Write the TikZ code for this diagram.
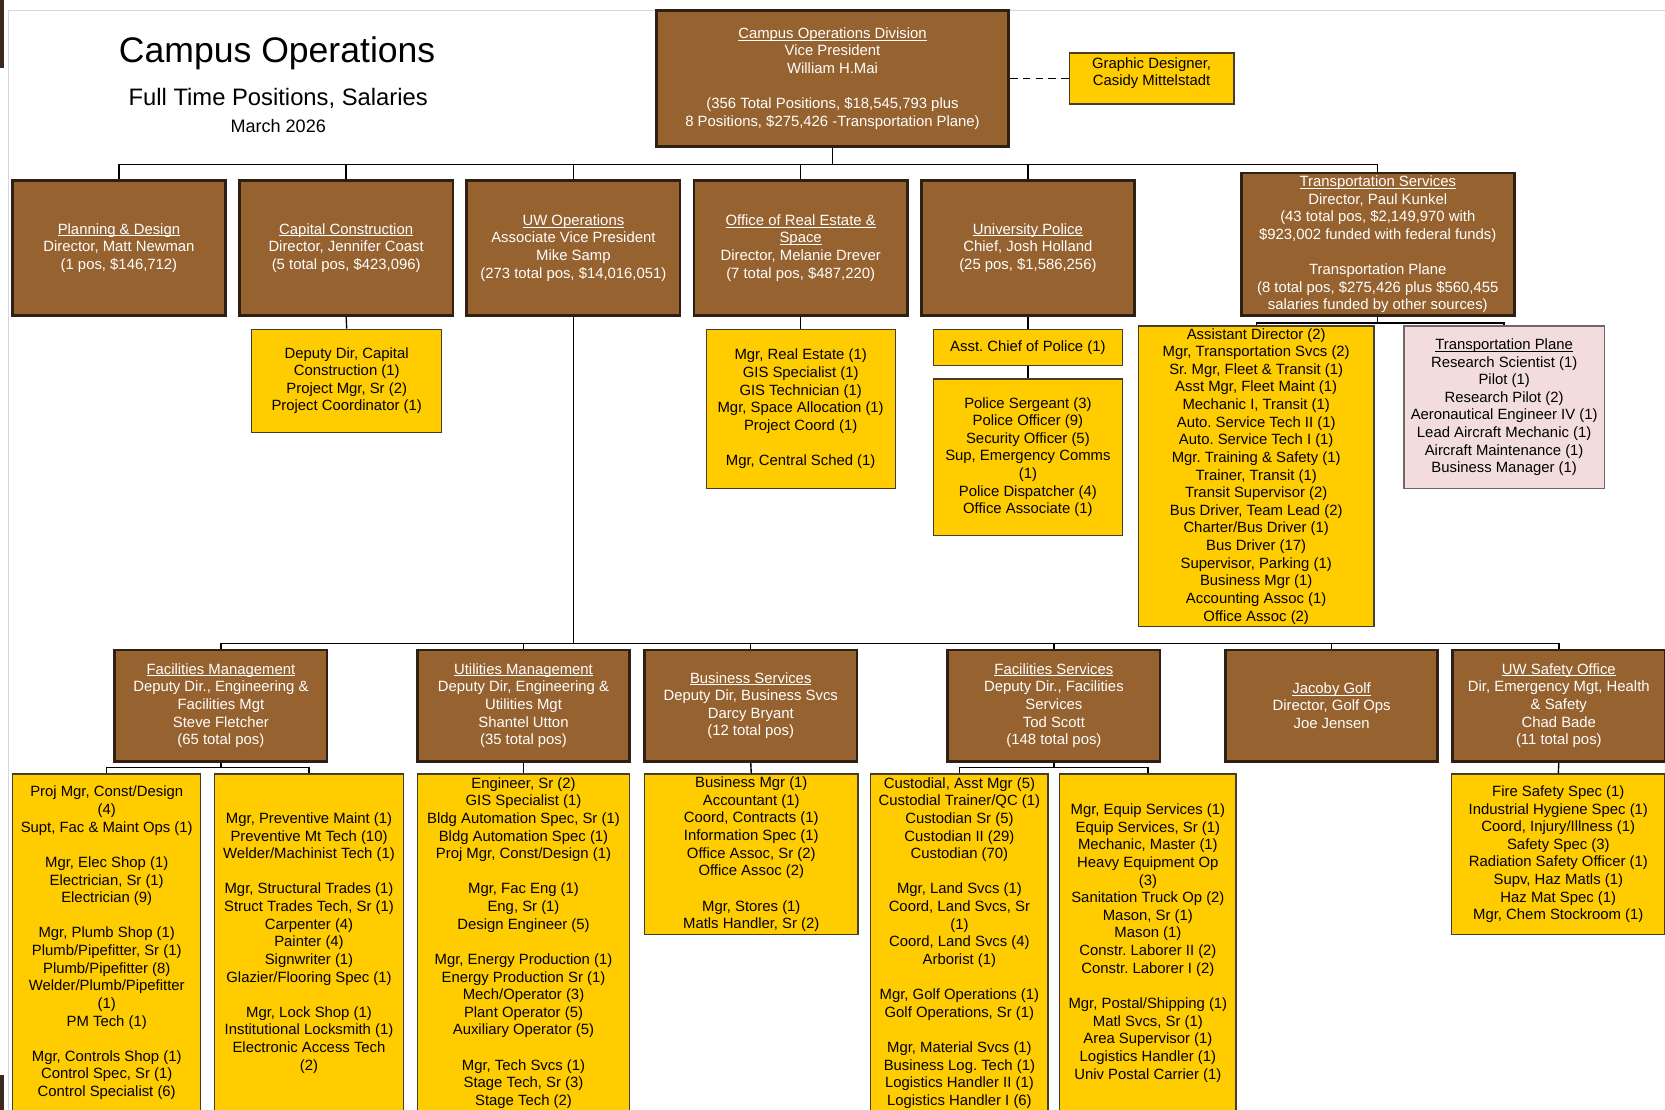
\documentclass[tikz,border=0pt]{standalone}
\usepackage{fontspec}
\setmainfont{Liberation Sans}
\frenchspacing
\definecolor{unitbrown}{RGB}{150,98,48}
\definecolor{unitedge}{RGB}{48,32,20}
\definecolor{staffyellow}{RGB}{255,204,0}
\definecolor{staffedge}{RGB}{72,62,40}
\definecolor{planepink}{RGB}{242,221,220}
\definecolor{planeedge}{RGB}{112,104,104}
\definecolor{framegray}{RGB}{215,215,215}
\definecolor{edgebar}{RGB}{60,40,28}
\newcommand{\boxfont}{\fontsize{14}{16.6}\selectfont}
\newcommand{\utitle}[1]{\underline{\raisebox{0pt}[\height][0pt]{#1}}}
\begin{document}
\begin{tikzpicture}[x=1pt, y=-1pt,
  unit/.style={draw=unitedge, line width=2.5pt, fill=unitbrown, text=white, align=center, inner sep=1pt, font=\boxfont, minimum width=201pt, minimum height=127pt},
  lowunit/.style={unit, minimum width=200pt, minimum height=105pt},
  staff/.style={draw=staffedge, line width=1.2pt, fill=staffyellow, align=center, inner sep=1pt, font=\boxfont},
  plane/.style={staff, fill=planepink, draw=planeedge, line width=1.5pt},
  link/.style={line width=1.3pt}]
\useasboundingbox (0,0) rectangle (1568,1045);
\fill[white] (0,0) rectangle (1568,1045);
\draw[framegray, line width=1pt] (8,1045) -- (8,10) -- (1568,10);
\fill[edgebar] (0,0) rectangle (4,64);
\fill[edgebar] (0,1012) rectangle (4,1045);

% title
\node[font=\fontsize{33.5}{40}\selectfont] (title) at (261,50) {Campus Operations};
\node[font=\fontsize{22.4}{27}\selectfont] (subtitle) at (262,93) {Full Time Positions, Salaries};
\node[font=\fontsize{17}{20}\selectfont] (date) at (262,119) {March 2026};

% division
\node[unit, minimum width=332pt, minimum height=128pt] (top) at (784,74) {\utitle{Campus Operations Division}\\Vice President\\William H.Mai\\~\\(356 Total Positions, \$18,545,793 plus\\8 Positions, \$275,426 -Transportation Plane)};
\node[staff, minimum width=155pt, minimum height=48pt] (gd) at (1084.5,74) {Graphic Designer,\\Casidy Mittelstadt\rule[-13pt]{0pt}{13pt}};
\draw[link, dash pattern=on 7pt off 5pt] (top.east) -- (gd.west);

% first row
\node[unit] (pd) at (112,233.5) {\utitle{Planning \& Design}\\Director, Matt Newman\\(1 pos, \$146,712)};
\node[unit] (cc) at (326,233.5) {\utitle{Capital Construction}\\Director, Jennifer Coast\\(5 total pos, \$423,096)};
\node[unit] (uwo) at (540,233.5) {\utitle{UW Operations}\\Associate Vice President\\Mike Samp\\(273 total pos, \$14,016,051)};
\node[unit] (re) at (754,233.5) {\utitle{Office of Real Estate \&}\\\utitle{Space}\\Director, Melanie Drever\\(7 total pos, \$487,220)};
\node[unit] (up) at (968,233.5) {\utitle{University Police}\\Chief, Josh Holland\\(25 pos, \$1,586,256)};
\node[unit, minimum width=257pt, minimum height=134pt] (ts) at (1297.5,230) {\utitle{Transportation Services}\\Director, Paul Kunkel\\(43 total pos, \$2,149,970 with\\\$923,002 funded with federal funds)\\~\\Transportation Plane\\(8 total pos, \$275,426 plus \$560,455\\salaries funded by other sources)};

\coordinate (bus1) at (784,155);
\draw[link] (top.south) -- (bus1);
\foreach \n in {pd,cc,uwo,re,up,ts}
  \draw[link] (bus1) -| (\n.north);

% first row staff
\node[staff, minimum width=179pt, minimum height=97pt] (ccsub) at (326.5,358.5) {Deputy Dir, Capital\\Construction (1)\\Project Mgr, Sr (2)\\Project Coordinator (1)};
\node[staff, minimum width=178pt, minimum height=150pt] (resub) at (754,385) {Mgr, Real Estate (1)\\GIS Specialist (1)\\GIS Technician (1)\\Mgr, Space Allocation (1)\\Project Coord (1)\\~\\Mgr, Central Sched (1)};
\node[staff, minimum width=178pt, minimum height=34pt] (upasst) at (968,327) {Asst. Chief of Police (1)};
\node[staff, minimum width=178pt, minimum height=147pt] (upstaff) at (968,430.5) {Police Sergeant (3)\\Police Officer (9)\\Security Officer (5)\\Sup, Emergency Comms\\(1)\\Police Dispatcher (4)\\Office Associate (1)};
\node[staff, minimum width=222pt, minimum height=283pt, inner sep=0pt] (tsstaff) at (1183,448.5) {Assistant Director (2)\\Mgr, Transportation Svcs (2)\\Sr. Mgr, Fleet \& Transit (1)\\Asst Mgr, Fleet Maint (1)\\Mechanic I, Transit (1)\\Auto. Service Tech II (1)\\Auto. Service Tech I (1)\\Mgr. Training \& Safety (1)\\Trainer, Transit (1)\\Transit Supervisor (2)\\Bus Driver, Team Lead (2)\\Charter/Bus Driver (1)\\Bus Driver (17)\\Supervisor, Parking (1)\\Business Mgr (1)\\Accounting Assoc (1)\\Office Assoc (2)};
\node[plane, minimum width=189pt, minimum height=153pt] (tsplane) at (1416.5,383.5) {\utitle{Transportation Plane}\\Research Scientist (1)\\Pilot (1)\\Research Pilot (2)\\Aeronautical Engineer IV (1)\\Lead Aircraft Mechanic (1)\\Aircraft Maintenance (1)\\Business Manager (1)};

\draw[link] (cc.south) -- (ccsub.north);
\draw[link] (re.south) -- (resub.north);
\draw[link] (up.south) -- (upasst.north);
\draw[link] (upasst.south) -- (upstaff.north);
\coordinate (tsbus) at (1297.5,304);
\draw[link] (ts.south) -- (tsbus);
\draw[link] (tsbus) -| (tsstaff.north);
\draw[link] (tsbus) -| (tsplane.north);

% second row
\node[lowunit] (fm) at (208,664.5) {\utitle{Facilities Management}\\Deputy Dir., Engineering \&\\Facilities Mgt\\Steve Fletcher\\(65 total pos)};
\node[lowunit] (um) at (493,664.5) {\utitle{Utilities Management}\\Deputy Dir, Engineering \&\\Utilities Mgt\\Shantel Utton\\(35 total pos)};
\node[lowunit] (bs) at (707,664.5) {\utitle{Business Services}\\Deputy Dir, Business Svcs\\Darcy Bryant\\(12 total pos)};
\node[lowunit] (fs) at (992.5,664.5) {\utitle{Facilities Services}\\Deputy Dir., Facilities\\Services\\Tod Scott\\(148 total pos)};
\node[lowunit] (jg) at (1254,664.5) {\utitle{Jacoby Golf}\\Director, Golf Ops\\Joe Jensen};
\node[lowunit] (so) at (1468,664.5) {\utitle{UW Safety Office}\\Dir, Emergency Mgt, Health\\\& Safety\\Chad Bade\\(11 total pos)};

\coordinate (bus2) at (540,606);
\draw[link] (uwo.south) -- (bus2);
\foreach \n in {fm,um,bs,fs,jg,so}
  \draw[link] (bus2) -| (\n.north);

% second row staff
\node[staff, minimum width=177pt, minimum height=318pt] (fma) at (100.5,888) {Proj Mgr, Const/Design\\(4)\\Supt, Fac \& Maint Ops (1)\\~\\Mgr, Elec Shop (1)\\Electrician, Sr (1)\\Electrician (9)\\~\\Mgr, Plumb Shop (1)\\Plumb/Pipefitter, Sr (1)\\Plumb/Pipefitter (8)\\Welder/Plumb/Pipefitter\\(1)\\PM Tech (1)\\~\\Mgr, Controls Shop (1)\\Control Spec, Sr (1)\\Control Specialist (6)};
\node[staff, minimum width=178pt, minimum height=318pt] (fmb) at (291,888) {Mgr, Preventive Maint (1)\\Preventive Mt Tech (10)\\Welder/Machinist Tech (1)\\~\\Mgr, Structural Trades (1)\\Struct Trades Tech, Sr (1)\\Carpenter (4)\\Painter (4)\\Signwriter (1)\\Glazier/Flooring Spec (1)\\~\\Mgr, Lock Shop (1)\\Institutional Locksmith (1)\\Electronic Access Tech\\(2)};
\node[staff, minimum width=200pt, minimum height=318pt, inner sep=0pt] (umsub) at (493,888) {Engineer, Sr (2)\\GIS Specialist (1)\\Bldg Automation Spec, Sr (1)\\Bldg Automation Spec (1)\\Proj Mgr, Const/Design (1)\\~\\Mgr, Fac Eng (1)\\Eng, Sr (1)\\Design Engineer (5)\\~\\Mgr, Energy Production (1)\\Energy Production Sr (1)\\Mech/Operator (3)\\Plant Operator (5)\\Auxiliary Operator (5)\\~\\Mgr, Tech Svcs (1)\\Stage Tech, Sr (3)\\Stage Tech (2)};
\node[staff, minimum width=201pt, minimum height=151pt] (bssub) at (707.5,804.5) {Business Mgr (1)\\Accountant (1)\\Coord, Contracts (1)\\Information Spec (1)\\Office Assoc, Sr (2)\\Office Assoc (2)\\~\\Mgr, Stores (1)\\Matls Handler, Sr (2)};
\node[staff, minimum width=167pt, minimum height=318pt, inner sep=0pt] (fsa) at (903.5,888) {Custodial, Asst Mgr (5)\\Custodial Trainer/QC (1)\\Custodian Sr (5)\\Custodian II (29)\\Custodian (70)\\~\\Mgr, Land Svcs (1)\\Coord, Land Svcs, Sr\\(1)\\Coord, Land Svcs (4)\\Arborist (1)\\~\\Mgr, Golf Operations (1)\\Golf Operations, Sr (1)\\~\\Mgr, Material Svcs (1)\\Business Log. Tech (1)\\Logistics Handler II (1)\\Logistics Handler I (6)};
\node[staff, minimum width=166pt, minimum height=318pt] (fsb) at (1081,888) {Mgr, Equip Services (1)\\Equip Services, Sr (1)\\Mechanic, Master (1)\\Heavy Equipment Op\\(3)\\Sanitation Truck Op (2)\\Mason, Sr (1)\\Mason (1)\\Constr. Laborer II (2)\\Constr. Laborer I (2)\\~\\Mgr, Postal/Shipping (1)\\Matl Svcs, Sr (1)\\Area Supervisor (1)\\Logistics Handler (1)\\Univ Postal Carrier (1)};
\node[staff, minimum width=201pt, minimum height=151pt] (sosub) at (1467.5,804.5) {Fire Safety Spec (1)\\Industrial Hygiene Spec (1)\\Coord, Injury/Illness (1)\\Safety Spec (3)\\Radiation Safety Officer (1)\\Supv, Haz Matls (1)\\Haz Mat Spec (1)\\Mgr, Chem Stockroom (1)};

\coordinate (fmbus) at (208,723);
\draw[link] (fm.south) -- (fmbus);
\draw[link] (fmbus) -| (fma.north);
\draw[link] (fmbus) -| (fmb.north);
\draw[link] (um.south) -- (umsub.north);
\draw[link] (bs.south) -- (bssub.north);
\coordinate (fsbus) at (992.5,723);
\draw[link] (fs.south) -- (fsbus);
\draw[link] (fsbus) -| (fsa.north);
\draw[link] (fsbus) -| (fsb.north);
\draw[link] (so.south) -- (sosub.north);
\end{tikzpicture}
\end{document}
